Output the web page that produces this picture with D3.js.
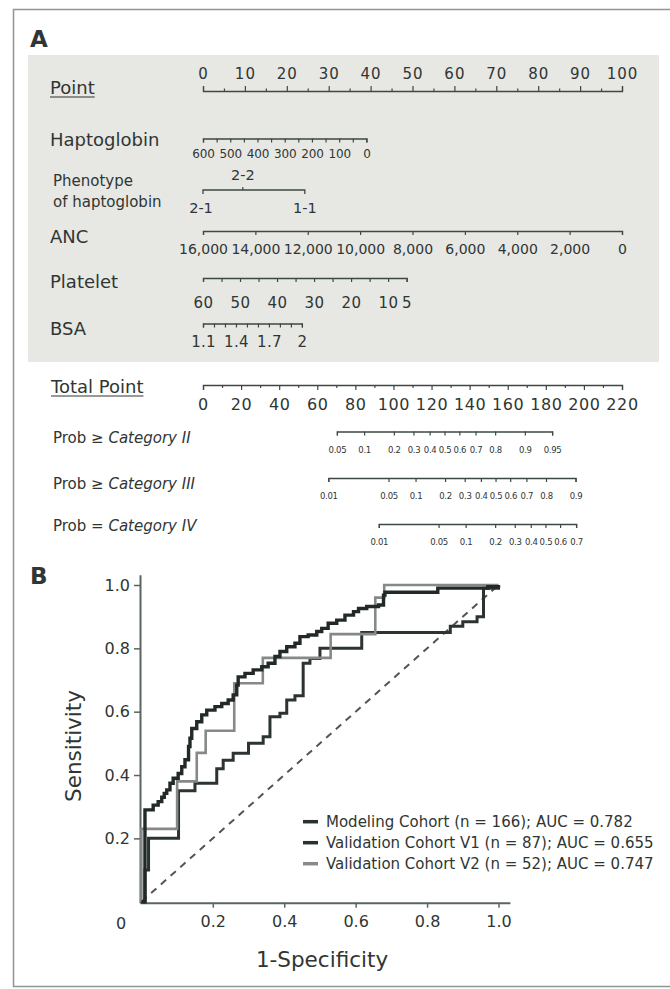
<!DOCTYPE html>
<html><head><meta charset="utf-8">
<script src="https://cdn.jsdelivr.net/npm/d3@7"></script>
<style>
body{margin:0;background:#fff;}
svg{display:block;}
text{font-family:"DejaVu Sans",sans-serif;fill:#2f3633;}
</style></head><body>
<svg id="c" width="670" height="989"></svg>
<script>
// ---------------- DATA ----------------
// Nomogram (panel A)
const pointLabels = [0,10,20,30,40,50,60,70,80,90,100];
const hapLabels = [600,500,400,300,200,100,0];
const hapDomain = [600,0];          const hapPoints = [0,39];
const phenoLabels = ["2-1","2-2","1-1"]; const phenoPoints = [0,9.5,24.3];
const ancLabels = [16000,14000,12000,10000,8000,6000,4000,2000,0];
const ancDomain = [16000,0];        const ancPoints = [0,100];
const plateletLabels = [60,50,40,30,20,10,5];
const plateletDomain = [60,5];      const plateletPoints = [0,48.6];
const bsaLabels = [1.1,1.4,1.7,2];
const bsaDomain = [1.1,2.0];        const bsaPoints = [0,23.6];
const totalLabels = [0,20,40,60,80,100,120,140,160,180,200,220];
const probIILabels  = ["0.05","0.1","0.2","0.3","0.4","0.5","0.6","0.7","0.8","0.9","0.95"];
const probIIPoints  = [70.3,84.6,100.2,110.5,119.0,126.8,134.6,143.1,153.4,169.0,183.3];
const probIIILabels = ["0.01","0.05","0.1","0.2","0.3","0.4","0.5","0.6","0.7","0.8","0.9"];
const probIIIPoints = [65.8,97.4,111.6,127.1,137.4,145.9,153.6,161.3,169.8,180.1,195.6];
const probIVLabels  = ["0.01","0.05","0.1","0.2","0.3","0.4","0.5","0.6","0.7"];
const probIVPoints  = [92.3,123.7,137.9,153.4,163.7,172.1,179.8,187.5,195.9];

// ROC (panel B) – step-after vertices (1-specificity, sensitivity)
const modelFPR = [0,0.01,0.033,0.047,0.057,0.064,0.071,0.08,0.089,0.103,0.113,0.122,0.132,0.136,0.141,0.155,0.169,0.183,0.206,0.225,0.243,0.257,0.267,0.271,0.29,0.313,0.337,0.355,0.374,0.388,0.407,0.43,0.444,0.467,0.491,0.505,0.523,0.547,0.57,0.594,0.608,0.631,0.664,0.678,0.682,0.83,0.97,1.0];
const modelTPR = [0,0.29,0.305,0.316,0.33,0.342,0.353,0.374,0.39,0.405,0.426,0.448,0.49,0.516,0.547,0.568,0.59,0.605,0.616,0.626,0.637,0.653,0.684,0.71,0.721,0.732,0.742,0.753,0.774,0.79,0.805,0.816,0.837,0.842,0.853,0.863,0.879,0.889,0.905,0.916,0.926,0.932,0.937,0.968,0.977,0.99,0.995,1.0];
const v1FPR = [0,0.01,0.02,0.104,0.15,0.211,0.229,0.257,0.30,0.341,0.36,0.388,0.407,0.43,0.453,0.472,0.50,0.617,0.865,0.90,0.94,0.958,1.0];
const v1TPR = [0,0.10,0.20,0.35,0.374,0.42,0.447,0.469,0.50,0.521,0.584,0.595,0.637,0.65,0.753,0.768,0.80,0.85,0.87,0.884,0.90,0.99,1.0];
const v2FPR = [0,0.10,0.155,0.18,0.26,0.34,0.53,0.655,0.68,1.0];
const v2TPR = [0.23,0.38,0.47,0.54,0.69,0.77,0.845,0.96,1.0,1.0];
const rocTicks = [0.2,0.4,0.6,0.8,1.0];
const rocTickLabels = ["0.2","0.4","0.6","0.8","1.0"];
const legendLabels = ["Modeling Cohort (n = 166); AUC = 0.782","Validation Cohort V1 (n = 87); AUC = 0.655","Validation Cohort V2 (n = 52); AUC = 0.747"];

// ---------------- DRAW ----------------
const svg = d3.select("#c");
const ink = "#3d4844";
const txt = "#2f3633";
const SANS = "'Liberation Sans', Arial, sans-serif";
const DJ = "'DejaVu Sans', sans-serif";

// frame
svg.append("path").attr("d","M670,9.5 H13.5 V986.5 H670")
  .attr("fill","none").attr("stroke","#8e9692").attr("stroke-width",1.5);
// grey panel
svg.append("rect").attr("x",28).attr("y",55).attr("width",631).attr("height",307).attr("fill","#e7e7e4");

svg.append("text").attr("x",30).attr("y",47).attr("font-size",23).attr("font-weight","bold")
  .attr("font-family",SANS).text("A");

const pts = d3.scaleLinear().domain([0,100]).range([203,622]);
const tot = d3.scaleLinear().domain([0,220]).range([203,622]);

function styleAxis(g, fs, family, ls){
  g.attr("font-family",null).attr("font-size",null);
  g.select(".domain").attr("stroke",ink).attr("stroke-width",1.3);
  g.selectAll(".tick line").attr("stroke",ink).attr("stroke-width",1.2);
  g.selectAll(".tick text").attr("fill",txt).attr("font-size",fs).attr("font-family",family)
    .attr("letter-spacing",ls||0);
}
// bottom axis with labels below; baseline absolute
function bottomAxis(scale, y, values, fmt, fs, baseline, family, tickLen, minors, ls){
  const pad = baseline - y - tickLen - 0.71*fs;
  const g = svg.append("g").attr("transform",`translate(0,${y})`)
    .call(d3.axisBottom(scale).tickValues(values).tickFormat(fmt).tickSize(tickLen).tickSizeOuter(tickLen).tickPadding(pad));
  styleAxis(g, fs, family, ls);
  if (minors){
    const m = svg.append("g").attr("transform",`translate(0,${y})`)
      .call(d3.axisBottom(scale).tickValues(minors).tickFormat("").tickSize(minors.len||tickLen));
    m.select(".domain").remove();
    m.selectAll(".tick line").attr("stroke",ink).attr("stroke-width",1.2);
  }
  return g;
}
function rowLabel(text, x, y, fs, underline){
  const t = svg.append("text").attr("x",x).attr("y",y).attr("font-size",fs).attr("font-family",DJ).text(text);
  if (underline){
    const w = t.node().getComputedTextLength();
    svg.append("line").attr("x1",x).attr("x2",x+w).attr("y1",y+3).attr("y2",y+3)
      .attr("stroke",txt).attr("stroke-width",1.2);
  }
  return t;
}

// Point axis (ticks up)
{
  const g = svg.append("g").attr("transform","translate(0,91)")
    .call(d3.axisTop(pts).tickValues(pointLabels).tickSize(5).tickSizeOuter(5).tickPadding(7));
  styleAxis(g, 15, SANS, 1);
  const minors = pointLabels.slice(0,-1).map(d=>d+5);
  const m = svg.append("g").attr("transform","translate(0,91)")
    .call(d3.axisTop(pts).tickValues(minors).tickFormat("").tickSize(2.5));
  m.select(".domain").remove();
  m.selectAll(".tick line").attr("stroke",ink).attr("stroke-width",1.2);
}
rowLabel("Point",50,94,18,true);

// Haptoglobin
const hapScale = d3.scaleLinear().domain(hapDomain).range(hapPoints.map(pts));
{
  const minors = hapLabels.slice(0,-1).map(d=>d-50);
  bottomAxis(hapScale,138.5,hapLabels,d3.format("d"),12,158,SANS,4,minors,-0.2);
}
rowLabel("Haptoglobin",50,146,18);

// Phenotype (categorical)
{
  const px = phenoPoints.map(pts);
  svg.append("path").attr("d",`M${px[0]},194 V190 H${px[2]} V194`).attr("fill","none")
    .attr("stroke",ink).attr("stroke-width",1.3);
  svg.append("line").attr("x1",px[1]).attr("x2",px[1]).attr("y1",190).attr("y2",187)
    .attr("stroke",ink).attr("stroke-width",1.2);
  phenoLabels.forEach((l,i)=>{
    svg.append("text").attr("x",px[i]-(i==0?2:0)).attr("y",i==1?180:213).attr("text-anchor","middle")
      .attr("font-size",14.5).attr("font-family",SANS).text(l);
  });
}
rowLabel("Phenotype",53,186,15);
rowLabel("of haptoglobin",53,207,15);

// ANC
const ancScale = d3.scaleLinear().domain(ancDomain).range(ancPoints.map(pts));
bottomAxis(ancScale,231,ancLabels,d3.format(","),14,254,SANS,4,null,0);
rowLabel("ANC",50,243,18);

// Platelet
const pltScale = d3.scaleLinear().domain(plateletDomain).range(plateletPoints.map(pts));
bottomAxis(pltScale,278,plateletLabels,d3.format("d"),15,308,SANS,4,[55,45,35,25,15],0.5);
rowLabel("Platelet",50,288,18);

// BSA
const bsaScale = d3.scaleLinear().domain(bsaDomain).range(bsaPoints.map(pts));
bottomAxis(bsaScale,323.5,bsaLabels,d3.format("~g"),15,347,SANS,4,[1.2,1.3,1.5,1.6,1.8,1.9],0.3);
rowLabel("BSA",50,335,18);

// Total Point
bottomAxis(tot,385,totalLabels,d3.format("d"),16,410,SANS,5,Object.assign(totalLabels.slice(0,-1).map(d=>d+10),{len:3}),0.6);
rowLabel("Total Point",51,393,18,true);

// Probability axes
function probAxis(labels, points, y, baseline){
  const sc = tot.copy().domain([points[0],points[points.length-1]])
    .range([tot(points[0]),tot(points[points.length-1])]);
  bottomAxis(sc,y,points,(d,i)=>labels[i],8.5,baseline,SANS,4,null,-0.3);
}
probAxis(probIILabels,probIIPoints,431.5,453);
probAxis(probIIILabels,probIIIPoints,478,499);
probAxis(probIVLabels,probIVPoints,524,544.5);
function probLabel(sym, cat, y){
  const t = svg.append("text").attr("x",53).attr("y",y).attr("font-size",15).attr("font-family",DJ);
  t.append("tspan").text("Prob " + sym + " ");
  t.append("tspan").attr("font-style","italic").text("Category " + cat);
}
probLabel("\u2265","II",443);
probLabel("\u2265","III",489);
probLabel("=","IV",531);

// ---------------- Panel B : ROC ----------------
svg.append("text").attr("x",30).attr("y",584).attr("font-size",23).attr("font-weight","bold")
  .attr("font-family",SANS).text("B");

const xR = d3.scaleLinear().domain([0,1]).range([141.4,498.5]);
const yR = d3.scaleLinear().domain([0,1]).range([901.7,585]);
const axisGrey = "#5b6460";
{
  const xs = xR.copy().domain([-0.004,1.032]).range([xR(-0.004),xR(1.032)]);
  const gx = svg.append("g").attr("transform",`translate(0,${yR(0)+1})`)
    .call(d3.axisBottom(xs).tickValues(rocTicks).tickFormat((d,i)=>rocTickLabels[i]).tickSize(5).tickSizeOuter(0).tickPadding(8));
  gx.attr("font-family",null).attr("font-size",null);
  gx.select(".domain").attr("stroke",axisGrey).attr("stroke-width",2);
  gx.selectAll(".tick line").attr("stroke",axisGrey).attr("stroke-width",1.5);
  gx.selectAll(".tick text").attr("fill","#4a504d").attr("font-size",16).attr("font-family",DJ);
  const ys = yR.copy().domain([-0.003,1.032]).range([yR(-0.003),yR(1.032)]);
  const gy = svg.append("g").attr("transform",`translate(${xR(0)-1.4},0)`)
    .call(d3.axisLeft(ys).tickValues(rocTicks).tickFormat((d,i)=>rocTickLabels[i]).tickSize(6).tickSizeOuter(0).tickPadding(4));
  gy.attr("font-family",null).attr("font-size",null);
  gy.select(".domain").attr("stroke",axisGrey).attr("stroke-width",2);
  gy.selectAll(".tick line").attr("stroke",axisGrey).attr("stroke-width",1.5);
  gy.selectAll(".tick text").attr("fill","#4a504d").attr("font-size",16).attr("font-family",DJ);
  svg.append("text").attr("x",121).attr("y",928.5).attr("text-anchor","middle")
    .attr("font-size",16).attr("fill","#4a504d").text("0");
}
// diagonal
svg.append("line").attr("x1",xR(0)).attr("y1",yR(0)).attr("x2",xR(1)).attr("y2",yR(1))
  .attr("stroke","#4f5653").attr("stroke-width",2).attr("stroke-dasharray","7,6");

const line = d3.line().x(d=>xR(d[0])).y(d=>yR(d[1])).curve(d3.curveStepAfter);
const seriesData = [
  {fpr:v1FPR, tpr:v1TPR, color:"#2c3431", w:3},
  {fpr:v2FPR.slice(), tpr:v2TPR.slice(), color:"#858a88", w:2.6, start:true},
  {fpr:modelFPR, tpr:modelTPR, color:"#222a27", w:3.4}
];
seriesData.forEach(s=>{
  let pts2 = s.fpr.map((f,i)=>[f,s.tpr[i]]);
  if (s.start) pts2 = [[0,0]].concat(pts2);
  svg.append("path").datum(pts2).attr("d",line).attr("fill","none")
    .attr("stroke",s.color).attr("stroke-width",s.w).attr("stroke-linejoin","miter");
});

// axis titles
svg.append("text").attr("transform","translate(81,746) rotate(-90)").attr("text-anchor","middle")
  .attr("font-size",21.5).attr("fill","#3b423f").text("Sensitivity");
svg.append("text").attr("x",322).attr("y",967).attr("text-anchor","middle")
  .attr("font-size",21.5).attr("fill","#3b423f").text("1-Specificity");

// legend
const legColors = ["#2a322f","#2a322f","#868b89"];
legendLabels.forEach((l,i)=>{
  const y = 821.7 + i*21;
  svg.append("line").attr("x1",303).attr("x2",318).attr("y1",y).attr("y2",y)
    .attr("stroke",legColors[i]).attr("stroke-width",3.5);
  svg.append("text").attr("x",326).attr("y",y+5.5).attr("font-size",15).attr("fill","#424946").text(l);
});
</script>
</body></html>
